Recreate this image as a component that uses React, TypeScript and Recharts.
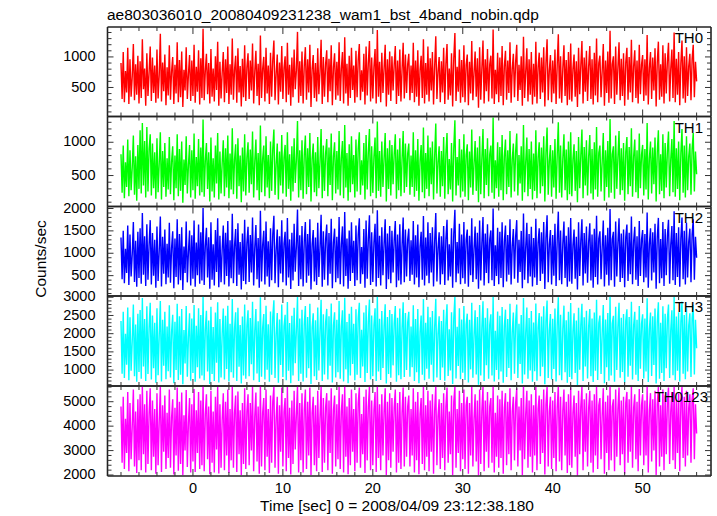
import { LineChart, Line, XAxis, YAxis } from "recharts";

const TITLE = "ae803036010_20080409231238_wam1_bst_4band_nobin.qdp";
const X_LABEL = "Time [sec] 0 = 2008/04/09 23:12:38.180";
const Y_LABEL = "Counts/sec";

// time grid of the light curve (sec)
const T_START = -8;
const T_STEP = 0.125;

const th0 = [
  900, 310, 1080, 260, 770, 420, 1150, 230, 960, 350, 680, 1210, 290, 880, 380, 1020,
  240, 930, 330, 1290, 470, 810, 200, 1060, 360, 740, 1170, 280, 990, 410, 860, 250,
  1120, 320, 700, 1380, 270, 910, 440, 1040, 210, 830, 370, 1190, 300, 760, 1000, 230,
  870, 400, 1240, 260, 950, 340, 1090, 180, 790, 450, 1160, 310, 720, 1030, 280, 940,
  360, 1200, 250, 840, 430, 1110, 220, 980, 330, 1460, 290, 770, 1050, 390, 900, 240,
  1130, 350, 810, 270, 1010, 460, 1250, 200, 920, 320, 740, 1080, 260, 960, 410, 1170,
  230, 880, 380, 1300, 300, 790, 1020, 250, 1140, 420, 850, 190, 970, 340, 1190, 280,
  830, 1060, 310, 940, 450, 1220, 240, 760, 1100, 360, 890, 210, 1350, 330, 800, 1000,
  270, 1150, 400, 860, 230, 1070, 350, 950, 1270, 290, 720, 1040, 220, 910, 430, 1180,
  310, 820, 1010, 260, 1230, 380, 870, 200, 990, 340, 1120, 470, 780, 1410, 250, 930,
  360, 1090, 240, 850, 1160, 300, 960, 420, 1200, 180, 800, 1030, 330, 900, 270, 1140,
  390, 750, 1280, 230, 1000, 350, 880, 1110, 260, 970, 440, 1190, 210, 830, 1060, 300,
  920, 370, 1240, 280, 810, 1080, 240, 1320, 400, 890, 200, 1020, 330, 1150, 460, 860,
  250, 1100, 340, 950, 1210, 290, 780, 430, 1050, 220, 1170, 370, 900, 1260, 270, 990,
  320, 840, 1130, 240, 1440, 350, 920, 260, 1070, 410, 810, 1200, 190, 960, 380, 1090,
  280, 1010, 450, 870, 1180, 230, 940, 360, 1120, 270, 790, 1230, 320, 1040, 410, 880,
  1050, 290, 860, 410, 1230, 260, 940, 350, 1110, 200, 780, 1020, 330, 1290, 240, 900,
  380, 1170, 270, 980, 450, 1080, 220, 850, 1340, 310, 760, 1000, 260, 930, 420, 1150,
  230, 890, 1210, 300, 810, 370, 1060, 190, 970, 1390, 280, 840, 430, 1120, 250, 950,
  340, 1190, 260, 870, 1040, 210, 920, 400, 1260, 290, 740, 1090, 350, 980, 170, 1160,
  300, 820, 1270, 240, 960, 440, 1130, 270, 880, 1020, 320, 1450, 230, 790, 390, 1070,
  260, 990, 360, 1180, 210, 850, 1100, 300, 940, 410, 1240, 250, 800, 1050, 340, 910,
  1200, 280, 870, 460, 1010, 200, 1330, 330, 760, 1140, 270, 960, 380, 1080, 220, 890,
  350, 1250, 240, 830, 1070, 310, 990, 420, 1160, 190, 900, 1290, 290, 780, 1030, 260,
  940, 400, 1120, 230, 870, 1370, 320, 1010, 250, 820, 1190, 360, 950, 210, 1080, 300,
  1220, 270, 800, 1040, 350, 930, 180, 1150, 390, 860, 1260, 240, 990, 430, 1100, 280,
  850, 1180, 310, 960, 220, 1070, 370, 1300, 260, 900, 1020, 340, 770, 1210, 200, 940,
  410, 1090, 250, 1430, 320, 880, 1010, 230, 1170, 380, 830, 1240, 290, 970, 360, 1060,
  200, 910, 1150, 300, 1000, 420, 1280, 260, 850, 1110, 330, 940, 240, 1200, 390, 870,
  1030, 280, 960, 370, 1360, 220, 820, 1080, 310, 990, 450, 1140, 190, 910, 1250, 300,
  880, 350, 1190, 240, 1060, 400, 930, 1230, 270, 800, 1120, 330, 1400, 260, 970, 380,
  1080, 210, 900, 1270, 320, 1010, 250, 1160, 360, 850, 1050, 290, 960, 1200, 340, 920,
  600,
];

const th1 = [
  820, 240, 950, 160, 700, 330, 1040, 190, 880, 280, 620, 1100, 210, 790, 120, 960,
  300, 1180, 230, 1290, 350, 1020, 170, 1230, 260, 900, 1120, 200, 980, 310, 850, 150,
  1060, 250, 680, 1150, 140, 870, 330, 990, 180, 760, 290, 1080, 220, 710, 940, 130,
  800, 310, 1120, 190, 900, 270, 1010, 90, 740, 360, 1090, 230, 660, 960, 170, 880,
  280, 1130, 150, 780, 340, 1050, 200, 920, 250, 1340, 180, 720, 990, 300, 850, 110,
  1070, 260, 760, 170, 950, 380, 1140, 140, 860, 230, 690, 1030, 190, 910, 320, 1100,
  160, 830, 290, 1210, 220, 740, 970, 150, 1060, 340, 800, 100, 920, 260, 1120, 200,
  770, 1000, 240, 890, 370, 1160, 170, 710, 1040, 280, 840, 130, 1250, 250, 750, 950,
  190, 1090, 320, 810, 160, 1010, 270, 900, 1190, 210, 670, 980, 140, 860, 350, 1110,
  230, 770, 960, 180, 1150, 300, 820, 120, 940, 260, 1060, 390, 730, 1320, 170, 880,
  280, 1030, 150, 800, 1100, 220, 910, 330, 1140, 110, 750, 980, 250, 850, 190, 1080,
  310, 700, 1200, 160, 950, 270, 830, 1050, 190, 920, 360, 1130, 130, 780, 1000, 230,
  870, 290, 1170, 200, 760, 1020, 160, 1260, 320, 840, 120, 970, 250, 1090, 370, 810,
  170, 1040, 260, 900, 1150, 210, 730, 350, 990, 140, 1110, 290, 850, 1200, 190, 940,
  240, 790, 1070, 160, 1310, 270, 870, 180, 1010, 330, 760, 1140, 110, 910, 300, 1030,
  200, 960, 370, 820, 1120, 150, 890, 280, 1060, 190, 740, 1170, 240, 980, 330, 830,
  980, 210, 800, 330, 1150, 180, 880, 270, 1050, 120, 720, 960, 250, 1220, 160, 840,
  300, 1100, 190, 920, 370, 1010, 140, 790, 1280, 230, 700, 940, 180, 870, 340, 1080,
  150, 830, 1140, 220, 750, 290, 990, 110, 910, 1330, 200, 780, 350, 1050, 170, 890,
  260, 1120, 180, 810, 970, 130, 860, 320, 1190, 210, 680, 1020, 270, 920, 100, 1090,
  220, 760, 1200, 160, 900, 360, 1060, 190, 820, 950, 240, 1370, 150, 730, 310, 1000,
  180, 930, 280, 1110, 130, 790, 1040, 220, 880, 330, 1170, 170, 740, 980, 260, 850,
  1130, 200, 810, 380, 940, 120, 1260, 250, 700, 1070, 190, 900, 300, 1010, 140, 830,
  270, 1180, 160, 770, 1000, 230, 920, 340, 1090, 110, 840, 1220, 210, 720, 960, 180,
  880, 320, 1050, 150, 810, 1300, 240, 950, 170, 760, 1120, 280, 890, 130, 1010, 220,
  1150, 190, 740, 970, 270, 870, 100, 1080, 310, 800, 1190, 160, 930, 350, 1030, 200,
  790, 1110, 230, 900, 140, 1000, 290, 1230, 180, 840, 950, 260, 710, 1140, 120, 880,
  330, 1020, 170, 1350, 240, 820, 940, 150, 1100, 300, 770, 1170, 210, 910, 280, 990,
  120, 850, 1080, 220, 930, 340, 1210, 180, 790, 1040, 250, 880, 160, 1130, 310, 810,
  960, 200, 900, 290, 1290, 140, 760, 1010, 230, 920, 370, 1070, 110, 850, 1180, 220,
  820, 270, 1120, 160, 990, 320, 870, 1160, 190, 740, 1050, 250, 1320, 180, 910, 300,
  1010, 130, 840, 1200, 240, 950, 170, 1090, 280, 790, 980, 210, 900, 1140, 260, 860,
  520,
];

const th2 = [
  1350, 420, 1500, 330, 1100, 560, 1620, 290, 1420, 480, 980, 1700, 360, 1280, 250, 1480,
  450, 1560, 320, 1900, 520, 1380, 270, 1650, 410, 1190, 1740, 300, 1450, 500, 1300, 230,
  1600, 380, 1060, 1820, 260, 1370, 540, 1530, 310, 1210, 460, 1680, 340, 1120, 1490, 220,
  1330, 470, 1760, 300, 1430, 400, 1580, 180, 1150, 560, 1710, 350, 1040, 1510, 280, 1400,
  430, 1730, 250, 1240, 510, 1640, 320, 1470, 390, 2010, 290, 1160, 1570, 460, 1360, 210,
  1690, 410, 1200, 280, 1520, 580, 1780, 240, 1390, 350, 1090, 1620, 300, 1460, 490, 1720,
  260, 1290, 440, 1880, 330, 1170, 1540, 270, 1670, 520, 1250, 190, 1440, 380, 1750, 310,
  1230, 1590, 360, 1410, 570, 1800, 280, 1130, 1630, 420, 1340, 230, 1950, 370, 1180, 1500,
  300, 1710, 480, 1270, 250, 1560, 400, 1420, 1840, 330, 1080, 1530, 240, 1380, 550, 1740,
  350, 1220, 1480, 280, 1790, 460, 1310, 200, 1460, 390, 1660, 590, 1150, 1980, 270, 1400,
  420, 1610, 260, 1260, 1700, 340, 1430, 500, 1760, 190, 1190, 1520, 370, 1350, 290, 1680,
  470, 1110, 1860, 250, 1490, 410, 1300, 1640, 280, 1450, 540, 1770, 220, 1240, 1550, 350,
  1370, 440, 1810, 310, 1200, 1600, 260, 1920, 490, 1330, 210, 1510, 380, 1690, 560, 1280,
  270, 1620, 400, 1410, 1780, 320, 1140, 530, 1540, 230, 1730, 430, 1320, 1850, 290, 1470,
  360, 1250, 1660, 260, 1960, 450, 1390, 280, 1580, 510, 1210, 1760, 200, 1440, 420, 1610,
  330, 1500, 570, 1290, 1720, 240, 1420, 390, 1650, 300, 1170, 1800, 350, 1530, 480, 1300,
  1550, 380, 1290, 520, 1720, 300, 1400, 460, 1640, 240, 1150, 1480, 410, 1830, 280, 1350,
  500, 1690, 330, 1450, 570, 1580, 260, 1260, 1900, 370, 1110, 1470, 300, 1380, 530, 1610,
  290, 1320, 1750, 390, 1200, 480, 1560, 230, 1430, 1970, 350, 1250, 550, 1660, 310, 1420,
  440, 1700, 320, 1300, 1530, 250, 1390, 510, 1780, 360, 1100, 1600, 420, 1460, 210, 1730,
  390, 1230, 1810, 280, 1440, 560, 1650, 330, 1310, 1510, 400, 2000, 270, 1180, 490, 1570,
  310, 1480, 450, 1690, 240, 1270, 1620, 370, 1410, 520, 1760, 300, 1160, 1540, 430, 1360,
  1740, 340, 1300, 580, 1500, 220, 1890, 410, 1140, 1680, 330, 1430, 480, 1590, 260, 1340,
  460, 1770, 290, 1240, 1560, 380, 1470, 540, 1700, 200, 1350, 1850, 350, 1190, 1520, 300,
  1410, 500, 1660, 270, 1290, 1930, 400, 1510, 310, 1220, 1710, 450, 1390, 250, 1580, 370,
  1790, 320, 1170, 1530, 430, 1370, 190, 1690, 490, 1280, 1760, 280, 1450, 550, 1600, 340,
  1260, 1670, 390, 1420, 230, 1550, 470, 1840, 300, 1330, 1490, 420, 1130, 1730, 260, 1400,
  520, 1570, 280, 1990, 400, 1310, 1480, 250, 1710, 480, 1240, 1780, 360, 1440, 450, 1530,
  240, 1360, 1640, 380, 1460, 530, 1820, 310, 1270, 1590, 410, 1380, 270, 1720, 490, 1300,
  1520, 350, 1430, 460, 1910, 230, 1210, 1560, 390, 1470, 570, 1660, 210, 1350, 1790, 330,
  1320, 440, 1700, 270, 1540, 510, 1390, 1750, 320, 1190, 1610, 400, 1940, 290, 1450, 470,
  1580, 250, 1340, 1800, 420, 1500, 300, 1680, 460, 1260, 1550, 350, 1420, 1760, 410, 1370,
  900,
];

const th3 = [
  2350, 900, 2600, 780, 2000, 1150, 2720, 720, 2450, 980, 1800, 2800, 830, 2250, 680, 2550,
  950, 2650, 760, 2980, 1100, 2400, 700, 2750, 890, 2150, 2850, 740, 2500, 1050, 2300, 650,
  2700, 860, 1950, 2900, 690, 2380, 1120, 2600, 750, 2200, 970, 2780, 800, 2050, 2520, 640,
  2330, 1000, 2820, 730, 2480, 870, 2680, 610, 2100, 1180, 2760, 820, 1900, 2560, 710, 2420,
  920, 2790, 680, 2220, 1080, 2700, 770, 2510, 850, 3020, 720, 2120, 2630, 960, 2360, 620,
  2740, 890, 2180, 700, 2580, 1200, 2860, 660, 2400, 800, 2000, 2690, 740, 2490, 1030, 2770,
  690, 2270, 940, 2950, 790, 2140, 2590, 700, 2710, 1090, 2240, 630, 2470, 850, 2800, 760,
  2210, 2640, 830, 2430, 1160, 2880, 720, 2080, 2680, 910, 2340, 670, 3000, 820, 2160, 2540,
  740, 2770, 1010, 2260, 680, 2610, 870, 2450, 2920, 780, 1980, 2570, 650, 2390, 1140, 2800,
  810, 2200, 2520, 720, 2870, 980, 2290, 640, 2490, 850, 2710, 1190, 2100, 3010, 700, 2420,
  900, 2660, 690, 2250, 2760, 790, 2460, 1050, 2820, 620, 2170, 2560, 830, 2370, 730, 2720,
  990, 2060, 2930, 700, 2530, 880, 2300, 2680, 740, 2480, 1120, 2830, 660, 2230, 2590, 800,
  2380, 940, 2900, 760, 2190, 2640, 690, 2990, 1020, 2320, 640, 2550, 850, 2740, 1170, 2270,
  720, 2670, 870, 2430, 2850, 780, 2110, 1100, 2580, 670, 2780, 920, 2330, 2940, 740, 2500,
  830, 2240, 2700, 700, 3030, 960, 2410, 730, 2620, 1060, 2200, 2810, 630, 2460, 890, 2650,
  790, 2540, 1130, 2280, 2760, 680, 2440, 860, 2690, 750, 2150, 2860, 810, 2570, 1000, 2310,
  2600, 820, 2200, 1080, 2780, 700, 2400, 940, 2680, 640, 2050, 2500, 870, 2950, 720, 2300,
  1040, 2740, 760, 2450, 1150, 2620, 680, 2180, 2960, 800, 2000, 2480, 730, 2350, 1070, 2660,
  710, 2280, 2810, 840, 2120, 990, 2590, 620, 2420, 3010, 770, 2190, 1110, 2700, 750, 2390,
  930, 2760, 730, 2260, 2550, 660, 2380, 1020, 2850, 790, 1950, 2640, 880, 2460, 600, 2790,
  850, 2170, 2890, 700, 2440, 1130, 2700, 760, 2250, 2530, 850, 3020, 690, 2080, 1000, 2610,
  740, 2490, 960, 2730, 650, 2210, 2660, 810, 2400, 1060, 2820, 720, 2040, 2580, 900, 2330,
  2800, 780, 2270, 1170, 2510, 630, 2980, 880, 2020, 2720, 760, 2430, 990, 2620, 680, 2310,
  970, 2830, 710, 2160, 2570, 830, 2470, 1090, 2750, 610, 2340, 2910, 780, 2090, 2540, 740,
  2410, 1030, 2690, 690, 2230, 3000, 860, 2520, 720, 2140, 2770, 940, 2370, 650, 2600, 810,
  2840, 750, 2060, 2560, 920, 2360, 590, 2710, 1010, 2240, 2820, 700, 2450, 1100, 2630, 770,
  2200, 2680, 830, 2420, 670, 2580, 980, 2930, 730, 2290, 2500, 890, 2010, 2790, 640, 2390,
  1080, 2570, 710, 3030, 850, 2280, 2490, 680, 2740, 1000, 2190, 2850, 790, 2440, 950, 2540,
  660, 2350, 2670, 820, 2460, 1120, 2880, 740, 2220, 2600, 870, 2380, 700, 2760, 1040, 2270,
  2530, 770, 2420, 960, 2970, 670, 2130, 2580, 840, 2480, 1140, 2690, 630, 2320, 2860, 760,
  2300, 920, 2750, 700, 2550, 1050, 2400, 2800, 780, 2100, 2640, 860, 3010, 720, 2470, 980,
  2590, 690, 2330, 2880, 900, 2510, 750, 2710, 960, 2230, 2560, 810, 2420, 2790, 880, 2380,
  1600,
];

const th0123 = [
  4800, 2500, 5200, 2250, 4300, 2900, 5400, 2150, 4950, 2650, 4000, 5500, 2350, 4600, 2080, 5100,
  2600, 5300, 2200, 5620, 2850, 4900, 2100, 5450, 2450, 4500, 5550, 2200, 5050, 2750, 4700, 2050,
  5350, 2400, 4200, 5600, 2120, 4850, 2950, 5250, 2250, 4550, 2700, 5500, 2300, 4350, 5100, 2020,
  4750, 2800, 5580, 2180, 5000, 2450, 5380, 2000, 4450, 3000, 5480, 2330, 4150, 5150, 2100, 4900,
  2550, 5520, 2120, 4650, 2900, 5400, 2250, 5050, 2400, 5640, 2150, 4500, 5300, 2650, 4800, 2030,
  5450, 2500, 4600, 2100, 5200, 3050, 5600, 2060, 4900, 2300, 4250, 5350, 2200, 5000, 2800, 5500,
  2080, 4700, 2600, 5620, 2300, 4550, 5250, 2120, 5420, 2850, 4650, 2000, 4950, 2450, 5550, 2250,
  4600, 5300, 2400, 4950, 3000, 5600, 2150, 4400, 5380, 2550, 4800, 2050, 5640, 2350, 4550, 5150,
  2200, 5500, 2750, 4700, 2080, 5250, 2500, 5000, 5620, 2300, 4300, 5200, 2050, 4850, 2950, 5580,
  2350, 4600, 5150, 2150, 5600, 2700, 4750, 2020, 5050, 2450, 5450, 3050, 4450, 5640, 2100, 4950,
  2600, 5350, 2100, 4650, 5500, 2250, 5000, 2800, 5580, 2000, 4550, 5200, 2400, 4850, 2150, 5450,
  2700, 4350, 5620, 2120, 5150, 2500, 4750, 5350, 2200, 5050, 2900, 5550, 2050, 4650, 5250, 2350,
  4900, 2650, 5600, 2250, 4600, 5300, 2100, 5640, 2750, 4800, 2030, 5150, 2400, 5500, 2950, 4700,
  2150, 5350, 2500, 4950, 5580, 2300, 4500, 2850, 5200, 2080, 5500, 2600, 4800, 5620, 2200, 5050,
  2400, 4650, 5400, 2120, 5640, 2700, 4900, 2200, 5300, 2800, 4600, 5550, 2000, 5000, 2600, 5350,
  2300, 5150, 2950, 4750, 5500, 2100, 4950, 2500, 5400, 2250, 4550, 5580, 2350, 5200, 2750, 4800,
  5250, 2350, 4700, 2800, 5550, 2100, 5000, 2600, 5400, 2030, 4500, 5150, 2450, 5620, 2200, 4850,
  2750, 5450, 2150, 5050, 2950, 5300, 2050, 4650, 5640, 2400, 4400, 5100, 2250, 4950, 2700, 5350,
  2200, 4800, 5580, 2500, 4600, 2850, 5250, 2000, 5000, 5620, 2300, 4700, 2900, 5450, 2150, 4950,
  2650, 5500, 2250, 4850, 5200, 2050, 4950, 2800, 5600, 2350, 4300, 5300, 2550, 5050, 1990, 5500,
  2450, 4650, 5620, 2150, 5050, 2950, 5400, 2300, 4800, 5150, 2500, 5640, 2100, 4550, 2750, 5250,
  2300, 5100, 2700, 5450, 2050, 4750, 5350, 2400, 5000, 2850, 5550, 2200, 4600, 5200, 2600, 4900,
  5550, 2350, 4800, 3000, 5150, 2000, 5640, 2650, 4500, 5450, 2300, 5050, 2750, 5300, 2100, 4850,
  2800, 5600, 2200, 4700, 5250, 2450, 5100, 2900, 5500, 2020, 4900, 5620, 2350, 4600, 5200, 2250,
  5050, 2700, 5400, 2150, 4750, 5640, 2550, 5200, 2200, 4650, 5500, 2800, 5000, 2080, 5300, 2400,
  5580, 2300, 4550, 5250, 2750, 4950, 1980, 5450, 2850, 4800, 5600, 2200, 5100, 2950, 5350, 2350,
  4750, 5450, 2500, 5050, 2100, 5300, 2800, 5620, 2250, 4850, 5150, 2650, 4450, 5550, 2050, 5000,
  2900, 5250, 2200, 5640, 2600, 4800, 5100, 2150, 5500, 2750, 4700, 5580, 2400, 5050, 2850, 5200,
  2050, 4950, 5400, 2500, 5100, 2950, 5600, 2300, 4750, 5300, 2650, 5000, 2150, 5520, 2800, 4850,
  5300, 2400, 5050, 2800, 5640, 2100, 4650, 5350, 2550, 5100, 3000, 5450, 2000, 4900, 5600, 2350,
  4850, 2750, 5500, 2200, 5250, 2850, 5000, 5580, 2450, 4600, 5400, 2600, 5640, 2250, 5050, 2900,
  5350, 2150, 4950, 5600, 2700, 5200, 2350, 5450, 2800, 4750, 5300, 2500, 5100, 5550, 2650, 4900,
  3700,
];

const panelKeys = ["th0", "th1", "th2", "th3", "th0123"];
const panelNames = ["TH0", "TH1", "TH2", "TH3", "TH0123"];
const panelColors = ["#ff0000", "#00ff00", "#0000ff", "#00ffff", "#ff00ff"];
const yDomains = [
  [25, 1490],
  [35, 1387],
  [45, 2045],
  [563, 3035],
  [1960, 5643],
];
const yMajorTicks = [
  [500, 1000],
  [500, 1000],
  [500, 1000, 1500, 2000],
  [1000, 1500, 2000, 2500, 3000],
  [2000, 3000, 4000, 5000],
];
const yMinorStep = [100, 100, 100, 100, 200];

const xMajorTicks = [0, 10, 20, 30, 40, 50];
const xMinorTicks = [
  -8, -6, -4, -2, 0, 2, 4, 6, 8, 10, 12, 14, 16, 18, 20, 22, 24, 26, 28, 30, 32,
  34, 36, 38, 40, 42, 44, 46, 48, 50, 52, 54, 56,
];

const data = th0.map((v, i) => ({
  t: T_START + i * T_STEP,
  th0: v,
  th1: th1[i],
  th2: th2[i],
  th3: th3[i],
  th0123: th0123[i],
}));

// layout
const W = 717;
const H = 516;
const PLOT_LEFT = 107.5;
const PLOT_RIGHT = 711;
const EDGES = [27, 116.5, 206.5, 296, 386, 476];
const X_DOMAIN = [-9.5, 57.6];
const FONT = "'Liberation Sans', Arial, Helvetica, sans-serif";
const AXIS_COLOR = "#222";
const AX = 1; // axis band size (recharts skips axes of size 0)

function stepTicks(lo: number, hi: number, step: number) {
  const out: number[] = [];
  for (let v = Math.ceil(lo / step) * step; v <= hi; v += step) out.push(v);
  return out;
}

function YTick(props: any) {
  const { x, y, payload, side, majors } = props;
  const major = majors.includes(payload.value);
  const len = major ? 6 : 4;
  const dir = side === "left" ? 1 : -1;
  return (
    <g>
      <line x1={x} y1={y} x2={x + dir * len} y2={y} stroke="#333" strokeWidth={1} />
      {side === "left" && major && (
        <text
          x={x - 12}
          y={y - 1}
          dy="0.35em"
          textAnchor="end"
          fontFamily={FONT}
          fontSize={14.5}
          fill="#000"
        >
          {payload.value}
        </text>
      )}
    </g>
  );
}

function XTick(props: any) {
  const { x, y, payload, side, showLabel } = props;
  const major = xMajorTicks.includes(payload.value);
  const len = major ? 7 : 4;
  const dir = side === "bottom" ? -1 : 1;
  return (
    <g>
      <line x1={x} y1={y} x2={x} y2={y + dir * len} stroke="#333" strokeWidth={1} />
      {side === "bottom" && showLabel && major && (
        <text
          x={x}
          y={y + 16.5}
          textAnchor="middle"
          fontFamily={FONT}
          fontSize={14.5}
          fill="#000"
        >
          {payload.value}
        </text>
      )}
    </g>
  );
}

function Panel({ idx }: { idx: number }) {
  const top = EDGES[idx];
  const bottom = EDGES[idx + 1];
  const [lo, hi] = yDomains[idx];
  const yTicks = stepTicks(lo, hi, yMinorStep[idx]);
  const majors = yMajorTicks[idx];
  const last = idx === panelKeys.length - 1;
  const axisLine = { stroke: AXIS_COLOR, strokeWidth: 1.6 };
  return (
    <div style={{ position: "absolute", left: 0, top: 0 }}>
      <LineChart
        width={W}
        height={H}
        data={data}
        margin={{
          top: top - AX,
          bottom: H - bottom - AX,
          left: PLOT_LEFT - AX,
          right: W - PLOT_RIGHT - AX,
        }}
      >
        <Line
          xAxisId="b"
          yAxisId="l"
          type="linear"
          dataKey={panelKeys[idx]}
          stroke={panelColors[idx]}
          strokeWidth={1.4}
          dot={false}
          activeDot={false}
          isAnimationActive={false}
        />
        <XAxis
          xAxisId="b"
          dataKey="t"
          type="number"
          orientation="bottom"
          domain={X_DOMAIN}
          allowDataOverflow
          ticks={xMinorTicks}
          interval={0}
          height={AX}
          tickSize={0}
          tickMargin={0}
          tickLine={false}
          axisLine={axisLine}
          tick={(p: any) => <XTick {...p} side="bottom" showLabel={last} />}
        />
        <XAxis
          xAxisId="t"
          dataKey="t"
          type="number"
          orientation="top"
          domain={X_DOMAIN}
          allowDataOverflow
          ticks={xMinorTicks}
          interval={0}
          height={AX}
          tickSize={0}
          tickMargin={0}
          tickLine={false}
          axisLine={axisLine}
          tick={(p: any) => <XTick {...p} side="top" />}
        />
        <YAxis
          yAxisId="l"
          type="number"
          orientation="left"
          domain={[lo, hi]}
          allowDataOverflow
          ticks={yTicks}
          interval={0}
          width={AX}
          tickSize={0}
          tickMargin={0}
          tickLine={false}
          axisLine={axisLine}
          tick={(p: any) => <YTick {...p} side="left" majors={majors} />}
        />
        <YAxis
          yAxisId="r"
          type="number"
          orientation="right"
          domain={[lo, hi]}
          allowDataOverflow
          ticks={yTicks}
          interval={0}
          width={AX}
          tickSize={0}
          tickMargin={0}
          tickLine={false}
          axisLine={axisLine}
          tick={(p: any) => <YTick {...p} side="right" majors={majors} />}
        />
      </LineChart>
    </div>
  );
}

export default function App() {
  const labelRight = [703, 703, 703, 703, 708];
  return (
    <div
      style={{
        position: "absolute",
        left: 0,
        top: 0,
        width: W,
        height: H,
        background: "#fff",
        overflow: "hidden",
      }}
    >
      {panelKeys.map((k, i) => (
        <Panel key={k} idx={i} />
      ))}
      <svg
        width={W}
        height={H}
        style={{ position: "absolute", left: 0, top: 0, pointerEvents: "none" }}
      >
        <text x={107} y={19.5} fontFamily={FONT} fontSize={15.5} fill="#000">
          {TITLE}
        </text>
        {panelNames.map((n, i) => (
          <text
            key={n}
            x={labelRight[i]}
            y={EDGES[i] + 16}
            textAnchor="end"
            fontFamily={FONT}
            fontSize={15}
            fill="#000"
          >
            {n}
          </text>
        ))}
        <text
          x={397}
          y={511}
          textAnchor="middle"
          fontFamily={FONT}
          fontSize={15.5}
          fill="#000"
        >
          {X_LABEL}
        </text>
        <text
          x={46}
          y={259}
          textAnchor="middle"
          fontFamily={FONT}
          fontSize={15.5}
          fill="#000"
          transform="rotate(-90 46 259)"
        >
          {Y_LABEL}
        </text>
      </svg>
    </div>
  );
}
